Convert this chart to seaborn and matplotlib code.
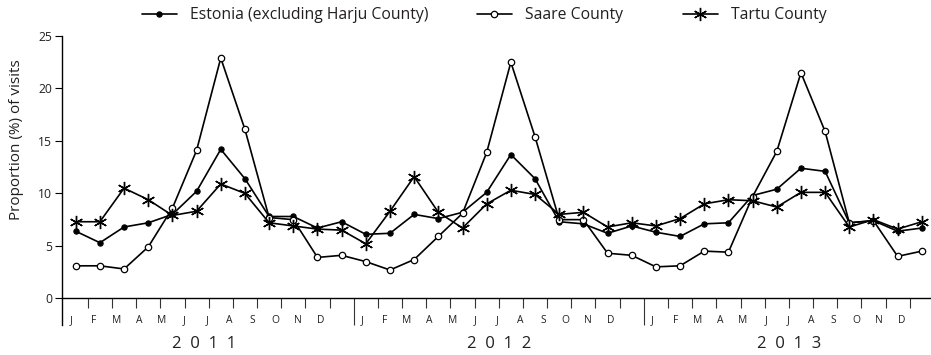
import numpy as np
import pandas as pd
import matplotlib
matplotlib.use("Agg")
import matplotlib.pyplot as plt
import matplotlib.transforms as mtransforms
import seaborn as sns

# ---------------- data ----------------
months = ["J", "F", "M", "A", "M", "J", "J", "A", "S", "O", "N", "D"]
years = ["2011", "2012", "2013"]
series_names = ["Estonia (excluding Harju County)", "Saare County", "Tartu County"]

estonia = [6.4, 5.3, 6.8, 7.2, 8.0, 10.2, 14.2, 11.4, 7.8, 7.8, 6.7, 7.3,
           6.1, 6.2, 8.0, 7.6, 8.2, 10.1, 13.7, 11.4, 7.3, 7.1, 6.2, 6.9,
           6.3, 5.9, 7.1, 7.2, 9.8, 10.4, 12.4, 12.1, 7.2, 7.4, 6.4, 6.7]
saare = [3.1, 3.1, 2.8, 4.9, 8.6, 14.1, 22.9, 16.1, 7.7, 7.5, 3.9, 4.1,
         3.5, 2.7, 3.7, 5.9, 8.1, 13.9, 22.5, 15.4, 7.5, 7.5, 4.3, 4.1,
         3.0, 3.1, 4.5, 4.4, 9.7, 14.0, 21.5, 15.9, 7.2, 7.4, 4.0, 4.5]
tartu = [7.3, 7.3, 10.5, 9.4, 7.9, 8.3, 10.9, 10.0, 7.2, 6.9, 6.6, 6.5,
         5.2, 8.3, 11.6, 8.2, 6.7, 9.0, 10.3, 9.9, 8.0, 8.2, 6.8, 7.2,
         6.9, 7.6, 9.0, 9.4, 9.3, 8.7, 10.1, 10.1, 6.8, 7.5, 6.6, 7.3]

n = len(estonia)
idx = np.arange(n)
df = pd.DataFrame({
    "idx": np.tile(idx, 3),
    "value": estonia + saare + tartu,
    "series": np.repeat(series_names, n),
})

# ---------------- style ----------------
sns.set_theme(style="white")
plt.rcParams["font.family"] = ["Open Sans", "DejaVu Sans"]
TXT = "#231f20"

W, H = 931, 355
fig = plt.figure(figsize=(W / 100, H / 100), dpi=100)
ax_left, ax_right, ax_top, ax_bot = 61.7, 931, 36, 325
ax = fig.add_axes([ax_left / W, 1 - ax_bot / H, (ax_right - ax_left) / W, (ax_bot - ax_top) / H])

styles = {
    series_names[0]: dict(marker="o", markersize=3.8, markerfacecolor="black", markeredgecolor="black", markeredgewidth=0.8),
    series_names[1]: dict(marker="o", markersize=4.6, markerfacecolor="white", markeredgecolor="black", markeredgewidth=0.9),
    series_names[2]: dict(marker=(6, 2, 0), markersize=9.5, markerfacecolor="black", markeredgecolor="black", markeredgewidth=1.0),
}
for name in series_names:
    sns.lineplot(data=df[df["series"] == name], x="idx", y="value", ax=ax,
                 color="black", linewidth=1.2, legend=False, errorbar=None,
                 **styles[name])

ax.set_xlim(-0.58, 35.38)
ax.set_ylim(-2.54, 25)

for s in ["top", "right"]:
    ax.spines[s].set_visible(False)
ax.spines["bottom"].set_position(("data", 0))
for s in ["left", "bottom"]:
    ax.spines[s].set_color("black")
    ax.spines[s].set_linewidth(1.0)

ax.set_yticks([0, 5, 10, 15, 20, 25])
ax.set_yticklabels(["0", "5", "10", "15", "20", "25"])
ax.tick_params(axis="y", direction="out", length=5, width=0.8, color="black",
               labelsize=8.7, labelcolor=TXT, pad=2, left=True)

major = [i + 0.5 for i in range(n - 1) if i not in (11, 23)]
minor = [11.5, 23.5]
ax.set_xticks(major)
ax.set_xticks(minor, minor=True)
ax.tick_params(axis="x", which="major", direction="out", length=7.2, width=0.8,
               color="#333333", labelbottom=False, bottom=True)
ax.tick_params(axis="x", which="minor", direction="out", length=19.4, width=0.8,
               color="#333333", labelbottom=False, bottom=True)
ax.set_xlabel("")

# month labels (drift slightly left of the points as in the original)
starts = [-0.194, 11.83, 23.86]
step = 0.937
for y_i in range(len(years)):
    for k, m in enumerate(months):
        ax.text(starts[y_i] + k * step, -2.14, m, ha="center", va="center",
                fontsize=7.4, color=TXT)

trans = mtransforms.blended_transform_factory(ax.transData, fig.transFigure)
year_pos = [5.3, 17.5, 29.5]
for yp, yr in zip(year_pos, years):
    ax.text(yp, 1 - 344 / H, "  ".join(yr), transform=trans, ha="center",
            va="center", fontsize=12, color=TXT)

ax.set_ylabel("Proportion (%) of visits", fontsize=11, color=TXT)
ax.yaxis.label.set_va("center")
ax.yaxis.set_label_coords((16 - ax_left) / (ax_right - ax_left), (ax_bot - 140) / (ax_bot - ax_top))

# legend: three entries at their own positions
lines = ax.get_lines()[:3]
leg_x = [141.7, 476.7, 683]
for h, name, lx in zip(lines, series_names, leg_x):
    fig.legend(handles=[h], labels=[name], loc="center left",
               bbox_to_anchor=(lx / W, 1 - 15 / H), frameon=False,
               borderpad=0, borderaxespad=0, handlelength=2.23,
               handletextpad=0.83, fontsize=11.3, labelcolor=TXT)

fig.savefig("out.png", dpi=100)
